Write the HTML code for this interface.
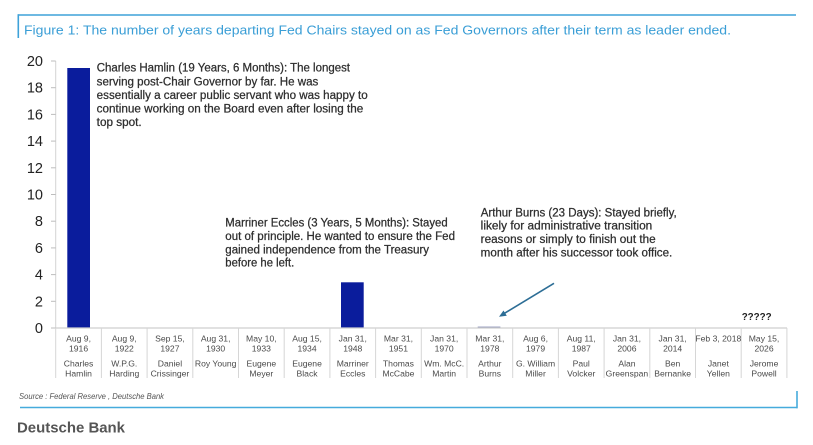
<!DOCTYPE html>
<html>
<head>
<meta charset="utf-8">
<style>
  html,body{margin:0;padding:0;background:#fff;}
  svg{display:block;}
  text{font-family:"Liberation Sans",Arial,sans-serif;}
</style>
</head>
<body>
<svg width="813" height="445" viewBox="0 0 813 445" xmlns="http://www.w3.org/2000/svg">
  <rect x="0" y="0" width="813" height="445" fill="#fff"/>

  <!-- top bracket -->
  <line x1="18.3" y1="15" x2="796" y2="15" stroke="#3ea2d9" stroke-width="1.6"/>
  <line x1="18.3" y1="14.2" x2="18.3" y2="38" stroke="#3ea2d9" stroke-width="1.6"/>
  <text x="24" y="34.5" font-size="13" fill="#3a9ed6" textLength="707" lengthAdjust="spacingAndGlyphs">Figure 1: The number of years departing Fed Chairs stayed on as Fed Governors after their term as leader ended.</text>

  <!-- y axis -->
  <line x1="55.7" y1="61" x2="55.7" y2="328" stroke="#d4d4d4" stroke-width="1"/>
  <g stroke="#bdbdbd" stroke-width="1">
    <line x1="51" y1="61" x2="55.7" y2="61"/>
    <line x1="51" y1="87.7" x2="55.7" y2="87.7"/>
    <line x1="51" y1="114.4" x2="55.7" y2="114.4"/>
    <line x1="51" y1="141.1" x2="55.7" y2="141.1"/>
    <line x1="51" y1="167.8" x2="55.7" y2="167.8"/>
    <line x1="51" y1="194.5" x2="55.7" y2="194.5"/>
    <line x1="51" y1="221.2" x2="55.7" y2="221.2"/>
    <line x1="51" y1="247.9" x2="55.7" y2="247.9"/>
    <line x1="51" y1="274.6" x2="55.7" y2="274.6"/>
    <line x1="51" y1="301.3" x2="55.7" y2="301.3"/>
    <line x1="51" y1="328" x2="55.7" y2="328"/>
  </g>
  <g font-size="14.5" fill="#222" text-anchor="end">
    <text x="43" y="66">20</text>
    <text x="43" y="92.7">18</text>
    <text x="43" y="119.4">16</text>
    <text x="43" y="146.1">14</text>
    <text x="43" y="172.8">12</text>
    <text x="43" y="199.5">10</text>
    <text x="43" y="226.2">8</text>
    <text x="43" y="252.9">6</text>
    <text x="43" y="279.6">4</text>
    <text x="43" y="306.3">2</text>
    <text x="43" y="333">0</text>
  </g>

  <!-- bars -->
  <rect x="67.3" y="68" width="22.7" height="260" fill="#0a1c9c"/>
  <rect x="341" y="282.3" width="22.7" height="45.7" fill="#0a1c9c"/>
  <rect x="477.7" y="326.6" width="22.7" height="1.4" fill="#8a90b8"/>

  <!-- x axis and category separators -->
  <line x1="55.7" y1="328" x2="787" y2="328" stroke="#cfcfcf" stroke-width="1.2"/>
  <g stroke="#d6d6d6" stroke-width="1">
    <line x1="55.7" y1="328" x2="55.7" y2="378"/>
    <line x1="101.4" y1="328" x2="101.4" y2="378"/>
    <line x1="147.1" y1="328" x2="147.1" y2="378"/>
    <line x1="192.8" y1="328" x2="192.8" y2="378"/>
    <line x1="238.5" y1="328" x2="238.5" y2="378"/>
    <line x1="284.2" y1="328" x2="284.2" y2="378"/>
    <line x1="329.9" y1="328" x2="329.9" y2="378"/>
    <line x1="375.6" y1="328" x2="375.6" y2="378"/>
    <line x1="421.3" y1="328" x2="421.3" y2="378"/>
    <line x1="467" y1="328" x2="467" y2="378"/>
    <line x1="512.7" y1="328" x2="512.7" y2="378"/>
    <line x1="558.4" y1="328" x2="558.4" y2="378"/>
    <line x1="604.1" y1="328" x2="604.1" y2="378"/>
    <line x1="649.8" y1="328" x2="649.8" y2="378"/>
    <line x1="695.5" y1="328" x2="695.5" y2="378"/>
    <line x1="741.2" y1="328" x2="741.2" y2="378"/>
    <line x1="786.9" y1="328" x2="786.9" y2="378"/>
  </g>

  <!-- x labels -->
  <g font-size="8.6" fill="#4a4a4a" text-anchor="middle">
    <text x="78.55" y="341.3">Aug 9,</text><text x="78.55" y="351.3">1916</text><text x="78.55" y="366.3">Charles</text><text x="78.55" y="376.3">Hamlin</text>
    <text x="124.25" y="341.3">Aug 9,</text><text x="124.25" y="351.3">1922</text><text x="124.25" y="366.3">W.P.G.</text><text x="124.25" y="376.3">Harding</text>
    <text x="169.95" y="341.3">Sep 15,</text><text x="169.95" y="351.3">1927</text><text x="169.95" y="366.3">Daniel</text><text x="169.95" y="376.3">Crissinger</text>
    <text x="215.65" y="341.3">Aug 31,</text><text x="215.65" y="351.3">1930</text><text x="215.65" y="366.3">Roy Young</text>
    <text x="261.35" y="341.3">May 10,</text><text x="261.35" y="351.3">1933</text><text x="261.35" y="366.3">Eugene</text><text x="261.35" y="376.3">Meyer</text>
    <text x="307.05" y="341.3">Aug 15,</text><text x="307.05" y="351.3">1934</text><text x="307.05" y="366.3">Eugene</text><text x="307.05" y="376.3">Black</text>
    <text x="352.75" y="341.3">Jan 31,</text><text x="352.75" y="351.3">1948</text><text x="352.75" y="366.3">Marriner</text><text x="352.75" y="376.3">Eccles</text>
    <text x="398.45" y="341.3">Mar 31,</text><text x="398.45" y="351.3">1951</text><text x="398.45" y="366.3">Thomas</text><text x="398.45" y="376.3">McCabe</text>
    <text x="444.15" y="341.3">Jan 31,</text><text x="444.15" y="351.3">1970</text><text x="444.15" y="366.3">Wm. McC.</text><text x="444.15" y="376.3">Martin</text>
    <text x="489.85" y="341.3">Mar 31,</text><text x="489.85" y="351.3">1978</text><text x="489.85" y="366.3">Arthur</text><text x="489.85" y="376.3">Burns</text>
    <text x="535.55" y="341.3">Aug 6,</text><text x="535.55" y="351.3">1979</text><text x="535.55" y="366.3">G. William</text><text x="535.55" y="376.3">Miller</text>
    <text x="581.25" y="341.3">Aug 11,</text><text x="581.25" y="351.3">1987</text><text x="581.25" y="366.3">Paul</text><text x="581.25" y="376.3">Volcker</text>
    <text x="626.95" y="341.3">Jan 31,</text><text x="626.95" y="351.3">2006</text><text x="626.95" y="366.3">Alan</text><text x="626.95" y="376.3">Greenspan</text>
    <text x="672.65" y="341.3">Jan 31,</text><text x="672.65" y="351.3">2014</text><text x="672.65" y="366.3">Ben</text><text x="672.65" y="376.3">Bernanke</text>
    <text x="718.35" y="341.3">Feb 3, 2018</text><text x="718.35" y="366.3">Janet</text><text x="718.35" y="376.3">Yellen</text>
    <text x="764.05" y="341.3">May 15,</text><text x="764.05" y="351.3">2026</text><text x="764.05" y="366.3">Jerome</text><text x="764.05" y="376.3">Powell</text>
  </g>

  <!-- annotations -->
  <g font-size="11.5" fill="#2e2e2e" stroke="#2e2e2e" stroke-width="0.25">
    <text x="96.7" y="71.5" textLength="253.3" lengthAdjust="spacingAndGlyphs">Charles Hamlin (19 Years, 6 Months): The longest</text>
    <text x="96.7" y="85.4" textLength="221.6" lengthAdjust="spacingAndGlyphs">serving post-Chair Governor by far. He was</text>
    <text x="96.7" y="99" textLength="271" lengthAdjust="spacingAndGlyphs">essentially a career public servant who was happy to</text>
    <text x="96.7" y="112.5" textLength="266.6" lengthAdjust="spacingAndGlyphs">continue working on the Board even after losing the</text>
    <text x="96.7" y="126" textLength="45" lengthAdjust="spacingAndGlyphs">top spot.</text>

    <text x="225.3" y="226.7" textLength="222.4" lengthAdjust="spacingAndGlyphs">Marriner Eccles (3 Years, 5 Months): Stayed</text>
    <text x="225.3" y="240" textLength="229.7" lengthAdjust="spacingAndGlyphs">out of principle. He wanted to ensure the Fed</text>
    <text x="225.3" y="253.3" textLength="203.7" lengthAdjust="spacingAndGlyphs">gained independence from the Treasury</text>
    <text x="225.3" y="266.7" textLength="69" lengthAdjust="spacingAndGlyphs">before he left.</text>

    <text x="480.7" y="216.3" textLength="196" lengthAdjust="spacingAndGlyphs">Arthur Burns (23 Days): Stayed briefly,</text>
    <text x="480.7" y="229.7" textLength="171.6" lengthAdjust="spacingAndGlyphs">likely for administrative transition</text>
    <text x="480.7" y="243.1" textLength="175" lengthAdjust="spacingAndGlyphs">reasons or simply to finish out the</text>
    <text x="480.7" y="256.4" textLength="191.6" lengthAdjust="spacingAndGlyphs">month after his successor took office.</text>
  </g>

  <!-- arrow -->
  <line x1="554" y1="283.3" x2="503" y2="314.2" stroke="#2d6e96" stroke-width="1.6"/>
  <polygon points="499,316.7 503.5,310.5 506.8,315.8" fill="#2d6e96"/>

  <text x="741.7" y="320" font-size="10" font-weight="bold" fill="#222" textLength="30" lengthAdjust="spacingAndGlyphs">?????</text>

  <!-- source -->
  <text x="19" y="399" font-size="8" font-style="italic" fill="#555" textLength="145" lengthAdjust="spacingAndGlyphs">Source : Federal Reserve , Deutsche Bank</text>

  <!-- bottom bracket -->
  <line x1="20" y1="407.5" x2="797.5" y2="407.5" stroke="#46abdc" stroke-width="1.6"/>
  <line x1="797" y1="391" x2="797" y2="408.3" stroke="#46abdc" stroke-width="1.6"/>

  <text x="17" y="432.5" font-size="15" font-weight="bold" fill="#555" textLength="108" lengthAdjust="spacingAndGlyphs">Deutsche Bank</text>
</svg>
</body>
</html>
